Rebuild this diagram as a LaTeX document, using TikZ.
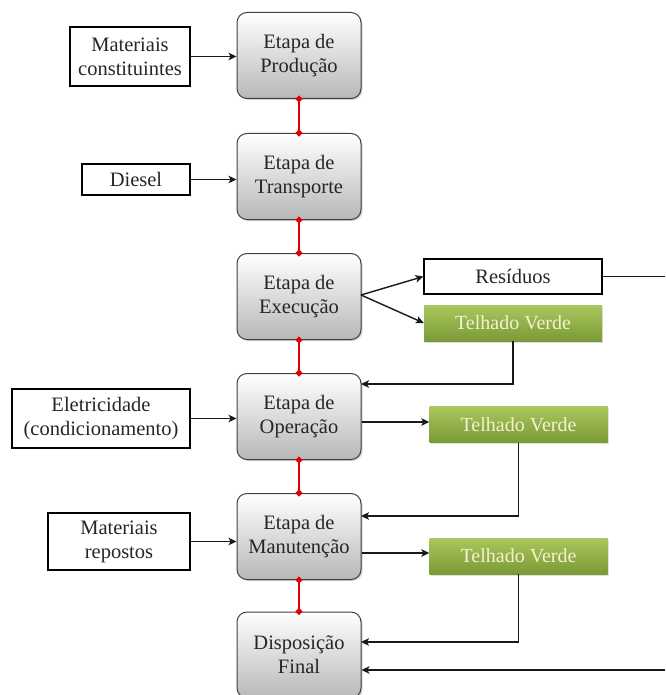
\documentclass[tikz,border=0pt]{standalone}
\usepackage{fontspec}
\setmainfont{Liberation Serif}
\usetikzlibrary{shadows,arrows.meta,calc}
\definecolor{tvtop}{HTML}{A9C75E}
\definecolor{tvbot}{HTML}{7A9A36}
\definecolor{tvtext}{HTML}{F4F1CF}
\tikzset{
  stage/.style={draw=black!75, line width=1pt, rounded corners=10pt, minimum width=124pt, minimum height=86pt,
    top color=white, bottom color=black!28, align=center, text=black!85, inner sep=1pt,
    drop shadow={shadow xshift=1.5pt, shadow yshift=-1.5pt, opacity=0.35},
    font=\fontsize{20.5}{24}\selectfont},
  inbox/.style={draw=black, line width=1.3pt, fill=white, align=center, inner sep=1pt, font=\fontsize{20.5}{24}\selectfont, text=black!85},
  tv/.style={top color=tvtop, bottom color=tvbot, minimum width=178pt, minimum height=36pt, text=tvtext, inner sep=1pt,
    font=\fontsize{20}{22}\selectfont, drop shadow={shadow xshift=1pt, shadow yshift=-1.5pt, opacity=0.25}},
  arr/.style={-{Stealth[length=8pt,width=7.5pt,inset=2pt]}, line width=1.4pt, black!90},
  ln/.style={line width=1.4pt, black!90},
  redlink/.style={red!90!black, line width=2.6pt, {Circle[length=6pt]}-{Circle[length=6pt]}, shorten <=-3pt, shorten >=-3pt},
}
\begin{document}
\begin{tikzpicture}[x=1pt,y=-1pt]
\useasboundingbox (0,0) rectangle (665,695);
% stages
\node[stage] (prod) at (299,55.5) {Etapa de\\Produção};
\node[stage] (trans) at (299,176.5) {Etapa de\\Transporte};
\node[stage] (exec) at (299,296.5) {Etapa de\\Execução};
\node[stage] (oper) at (299,416.5) {Etapa de\\Operação};
\node[stage] (manu) at (299,536.5) {Etapa de\\Manutenção};
\node[stage] (disp) at (299,655) {Disposição\\Final};
% red links
\draw[redlink] (prod.south) -- (trans.north);
\draw[redlink] (trans.south) -- (exec.north);
\draw[redlink] (exec.south) -- (oper.north);
\draw[redlink] (oper.south) -- (manu.north);
\draw[redlink] (manu.south) -- (disp.north);
% inputs
\node[inbox, minimum width=120pt, minimum height=59pt] (mat) at (130,56.5) {Materiais\\constituintes};
\node[inbox, minimum width=108pt, minimum height=31pt] (dies) at (136,179.5) {Diesel};
\node[inbox, minimum width=178pt, minimum height=59pt] (elet) at (101,418.5) {Eletricidade\\(condicionamento)};
\node[inbox, minimum width=142pt, minimum height=57pt] (rep) at (119,541.5) {Materiais\\repostos};
\draw[arr] (mat.east) -- (mat.east -| prod.west);
\draw[arr] (dies.east) -- (dies.east -| trans.west);
\draw[arr] (elet.east) -- (elet.east -| oper.west);
\draw[arr] (rep.east) -- (rep.east -| manu.west);
% outputs
\node[inbox, minimum width=178pt, minimum height=35pt] (res) at (513,276.5) {Resíduos};
\node[tv] (tv1) at (513,323) {Telhado Verde};
\node[tv] (tv2) at (518.5,424.5) {Telhado Verde};
\node[tv] (tv3) at (518.5,556) {Telhado Verde};
\coordinate (ex) at (361,295);
\draw[arr] (ex) -- (res.west);
\draw[arr] (ex) -- (tv1.west);
\coordinate (r1) at (665,276.5);
\coordinate (r2) at (665,670);
\draw[ln] (res.east) -- (r1);
\draw[arr] (r2) -- (r2 -| disp.east);
\draw[arr] (tv1.south) |- (361,384);
\draw[arr] (oper.east |- 0,422) -- (tv2.west |- 0,422);
\draw[arr] (tv2.south) |- (361,516);
\draw[arr] (manu.east |- 0,553) -- (tv3.west |- 0,553);
\draw[arr] (tv3.south) |- (361,642);
\end{tikzpicture}
\end{document}
